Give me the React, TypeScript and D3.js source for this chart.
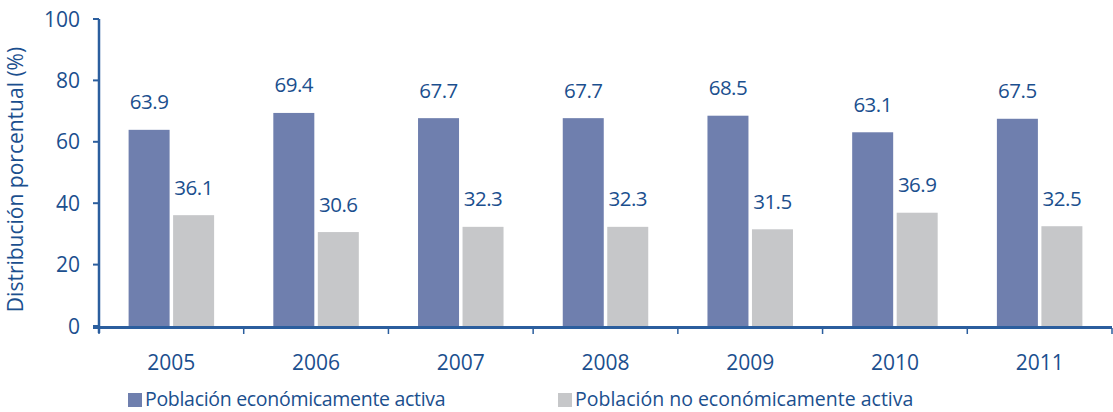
import React from "react";
import * as d3 from "d3";

const years = ["2005", "2006", "2007", "2008", "2009", "2010", "2011"];
const activa = [63.9, 69.4, 67.7, 67.7, 68.5, 63.1, 67.5];
const noActiva = [36.1, 30.6, 32.3, 32.3, 31.5, 36.9, 32.5];
const yTicks = [0, 20, 40, 60, 80, 100];
const seriesNames = ["Población económicamente activa", "Población no económicamente activa"];
const yTitle = "Distribución porcentual (%)";

const W = 1113;
const H = 412;
const TEXT = "#1b4f8e";
const AXIS = "#2b5e9e";
const BLUE = "#6f7fae";
const GRAY = "#c6c7c9";
const FONT = "'Open Sans', sans-serif";

export default function App() {
  const left = 99;
  const right = 1112;
  const top = 19;
  const bottom = 326;
  const x = d3.scaleBand<string>().domain(years).range([left, right]).paddingInner(0).paddingOuter(0);
  const y = d3.scaleLinear().domain([0, 100]).range([bottom, top]);
  const barW = 41;
  const gap = 3.5;
  const bw = x.bandwidth();
  const series = [
    { values: activa, color: BLUE, off: -gap / 2 - barW },
    { values: noActiva, color: GRAY, off: gap / 2 },
  ];
  const boundaries = years.map((yr) => x(yr)!).concat([right]);

  return (
    <svg width={W} height={H} style={{ position: "absolute", left: 0, top: 0, background: "#fff" }} fontFamily={FONT}>
      {/* bars */}
      {series.map((s, si) =>
        years.map((yr, i) => {
          const cx = x(yr)! + bw / 2;
          const bx = cx + s.off;
          const v = s.values[i];
          return (
            <g key={`${si}-${yr}`}>
              <rect x={bx} y={y(v)} width={barW} height={bottom - y(v)} fill={s.color} />
              <text x={bx + barW / 2} y={y(v) - 20.5} textAnchor="middle" fontSize={20.5} fill={TEXT} letterSpacing={-0.5}>
                {v.toFixed(1)}
              </text>
            </g>
          );
        })
      )}
      {/* y axis */}
      <line x1={left} x2={left} y1={top} y2={bottom + 7} stroke={AXIS} strokeWidth={2.5} />
      {yTicks.map((t) => (
        <g key={t}>
          <line x1={left - 6} x2={left} y1={y(t)} y2={y(t)} stroke={AXIS} strokeWidth={2} />
          <text x={80} y={y(t)} dy="0.36em" textAnchor="end" fontSize={21} fill={TEXT}>
            {t}
          </text>
        </g>
      ))}
      {/* x axis */}
      <line x1={left - 6} x2={right} y1={bottom + 1.5} y2={bottom + 1.5} stroke={AXIS} strokeWidth={3} />
      {boundaries.map((b, i) => (
        <line key={i} x1={b} x2={b} y1={bottom + 2} y2={bottom + 8} stroke={AXIS} strokeWidth={1.5} />
      ))}
      {years.map((yr) => (
        <text key={yr} x={x(yr)! + bw / 2} y={370} textAnchor="middle" fontSize={21} fill={TEXT}>
          {yr}
        </text>
      ))}
      {/* y title */}
      <text
        transform={`translate(23, ${(top + bottom) / 2 + 7}) rotate(-90)`}
        textAnchor="middle"
        fontSize={21}
        fill={TEXT}
      >
        {yTitle}
      </text>
      {/* legend */}
      {seriesNames.map((name, i) => {
        const lx = i === 0 ? 128 : 558;
        return (
          <g key={name}>
            <rect x={lx} y={393} width={14} height={14} fill={i === 0 ? BLUE : GRAY} />
            <text x={lx + 17} y={406} fontSize={19.5} fill={TEXT} letterSpacing={i === 0 ? -0.3 : 0}>
              {name}
            </text>
          </g>
        );
      })}
    </svg>
  );
}
